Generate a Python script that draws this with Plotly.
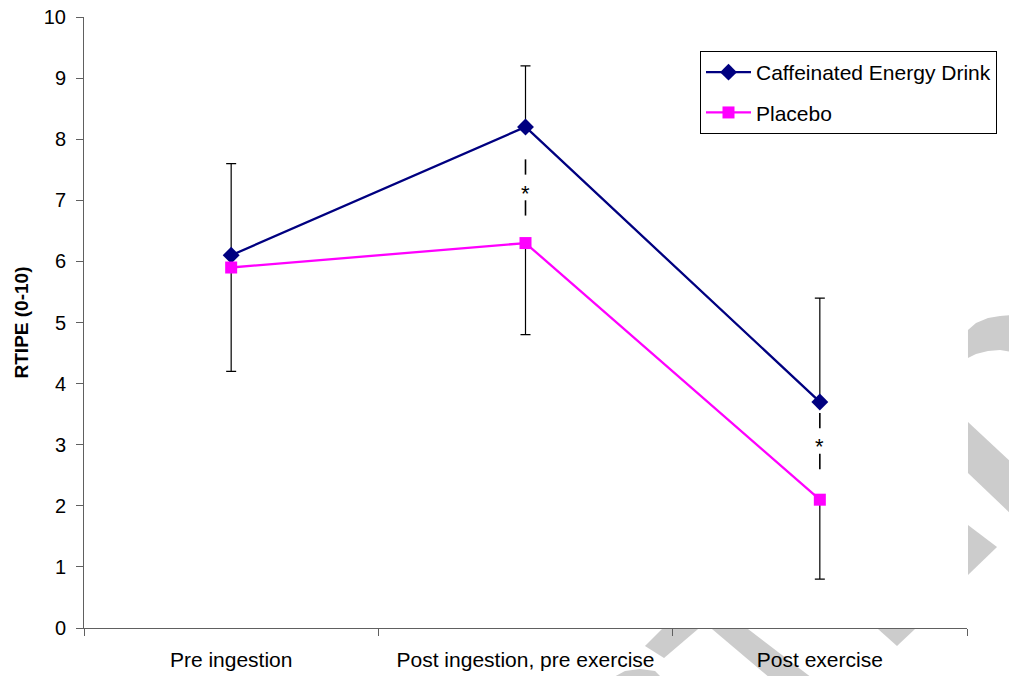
import plotly.graph_objects as go

# ---- data ----
categories = ["Pre ingestion", "Post ingestion, pre exercise", "Post exercise"]
caffeinated = [6.1, 8.2, 3.7]
caffeinated_err_up = [1.5, 1.0, 1.7]
placebo = [5.9, 6.3, 2.1]
placebo_err_down = [1.7, 1.5, 1.3]
y_ticks = list(range(0, 11))
sig_x = [1, 2]          # category index of significant differences
sig_y = [7.2, 3.05]     # position of the asterisk

FONT = "Liberation Sans, Arial, sans-serif"
W, H = 1009, 676
L, T = 84, 17
PW, PH = 883, 611
R, B = W - L - PW, H - T - PH

fig = go.Figure()

fig.add_trace(go.Scatter(
    x=categories, y=caffeinated, name="Caffeinated Energy Drink",
    mode="lines+markers", legendgroup="a",
    line=dict(color="#000080", width=2.3),
    marker=dict(symbol="diamond", size=13, color="#000080"),
    error_y=dict(type="data", symmetric=False, array=caffeinated_err_up,
                 arrayminus=[0] * len(caffeinated), color="black",
                 thickness=1.2, width=5),
))
fig.add_trace(go.Scatter(
    x=categories, y=placebo, name="Placebo",
    mode="lines+markers", legendgroup="b",
    line=dict(color="#FF00FF", width=2.3),
    marker=dict(symbol="square", size=12, color="#FF00FF"),
    error_y=dict(type="data", symmetric=False, array=[0] * len(placebo),
                 arrayminus=placebo_err_down, color="black",
                 thickness=1.2, width=5),
))

shapes = []
annotations = []
for sx, sy in zip(sig_x, sig_y):
    for a, b in [(0.22, 0.47), (-0.2, -0.45)]:
        shapes.append(dict(type="line", xref="x", yref="y", x0=sx, x1=sx,
                           y0=sy + a, y1=sy + b,
                           line=dict(color="black", width=1.6)))
    annotations.append(dict(x=sx, y=sy, xref="x", yref="y", text="*",
                            showarrow=False, yshift=-5,
                            font=dict(family=FONT, size=22, color="black")))


# decorative grey watermark fragments (pixel outlines -> paper coords)
def poly(pts):
    path = ""
    for i, (px, py) in enumerate(pts):
        xp = (px - L) / PW
        yp = (T + PH - py) / PH
        path += ("M" if i == 0 else "L") + f"{xp:.4f},{yp:.4f} "
    return path + "Z"


wm = [
    [(968, 330), (976, 323), (988, 318), (1000, 316), (1012, 315), (1012, 352),
     (1000, 350), (988, 351), (976, 354), (968, 358)],
    [(968, 422), (1012, 463), (1012, 515), (968, 473)],
    [(968, 525), (997, 547), (968, 575)],
    [(878, 629), (915, 629), (897, 646)],
    [(662, 629), (698, 629), (664, 658), (645, 646)],
    [(712, 629), (748, 629), (812, 678), (770, 678)],
    [(612, 678), (625, 671), (640, 669), (655, 671), (662, 678)],
]
for p in wm:
    shapes.append(dict(type="path", xref="paper", yref="paper", path=poly(p),
                       fillcolor="#CCCCCC", line=dict(width=0), layer="below"))

fig.update_layout(
    width=W, height=H,
    margin=dict(l=L, r=R, t=T, b=B, autoexpand=False),
    paper_bgcolor="white", plot_bgcolor="white",
    font=dict(family=FONT, size=20, color="black"),
    showlegend=True,
    legend=dict(x=(700 - L) / PW, y=(T + PH - 51) / PH, xanchor="left", yanchor="top",
                bordercolor="black", borderwidth=1, bgcolor="white",
                font=dict(family=FONT, size=21, color="black"),
                itemwidth=45, tracegroupgap=10),
    shapes=shapes,
    annotations=annotations,
    xaxis=dict(type="category", range=[-0.5, 2.5], tickson="boundaries",
               showline=True, linecolor="#606060", linewidth=1,
               ticks="outside", ticklen=7, tickcolor="#606060",
               showgrid=False, zeroline=False,
               tickfont=dict(family=FONT, size=21, color="black"),
               ticklabelstandoff=13),
    yaxis=dict(range=[0, 10], tickvals=y_ticks, showline=True,
               linecolor="#606060", linewidth=1, ticks="outside", ticklen=7,
               tickcolor="#606060", showgrid=False, zeroline=False,
               tickfont=dict(family=FONT, size=20, color="black"),
               ticklabelstandoff=6, ticklabeloverflow="allow",
               title=dict(text="<b>RTIPE (0-10)</b>", standoff=10,
                          font=dict(family=FONT, size=19, color="black"))),
)

fig.write_html("out.html", config={"displayModeBar": False},
               post_script="document.body.style.margin='0';"
                           "document.body.style.overflow='hidden';")
